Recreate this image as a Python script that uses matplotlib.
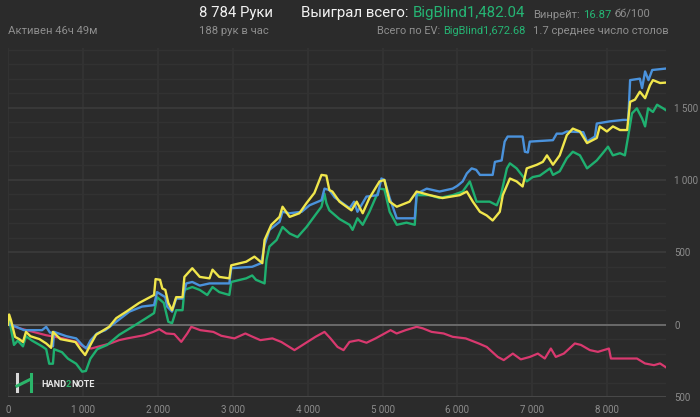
import matplotlib
matplotlib.use("Agg")
import matplotlib.pyplot as plt
import matplotlib.text as mtext
import numpy as np
from matplotlib.lines import Line2D

plt.rcParams['font.family'] = ['Roboto', 'DejaVu Sans']

# ---------------- data (hands, big blinds) ----------------
ev_x = [0, 15, 40, 95, 150, 200, 240, 300, 420, 510, 575, 600, 700, 900, 975, 1030, 1100, 1175,
        1350, 1445, 1580, 1750, 1950, 1970, 2030, 2060, 2100, 2140, 2190, 2245, 2330, 2355, 2460,
        2560, 2690, 2730, 2820, 2955, 2980, 3180, 3290, 3395, 3425, 3515, 3625, 3665, 3760, 3890,
        3985, 4090, 4185, 4250, 4290, 4330, 4425, 4585, 4655, 4735, 4825, 4960, 5025, 5095, 5190,
        5360, 5455, 5630, 5800, 6030, 6125, 6205, 6300, 6390, 6470, 6565, 6605, 6700, 6790, 6870,
        6925, 7060, 7140, 7195, 7275, 7365, 7460, 7540, 7635, 7730, 7860, 7900, 7995, 8075, 8170,
        8265, 8305, 8370, 8435, 8505, 8570, 8610, 8705, 8784]
ev_y = [0, 70, 30, -85, -100, -120, -50, -80, -100, -130, -160, -50, -100, -120, -175, -210, -140, -70,
        -15, 45, 90, 150, 205, 315, 310, 250, 240, 150, 100, 190, 190, 330, 390,
        330, 320, 380, 330, 320, 410, 435, 470, 425, 585, 690, 745, 815, 745, 770,
        840, 910, 1035, 1030, 930, 920, 850, 790, 850, 770, 875, 990, 1000, 850, 815,
        850, 920, 895, 875, 895, 920, 850, 780, 755, 720, 780, 895, 1010, 990, 955,
        1080, 1105, 1125, 1170, 1105, 1170, 1310, 1355, 1335, 1255, 1290, 1370, 1335, 1370, 1345,
        1345, 1540, 1555, 1610, 1565, 1655, 1690, 1670, 1673]

sd_x = [0, 40, 214, 455, 510, 560, 590, 600, 615, 780, 910, 990, 1045, 1100, 1190, 1300, 1445,
        1620, 1790, 1950, 1990, 2100, 2125, 2190, 2245, 2330, 2380, 2460, 2560, 2690, 2955, 2980,
        3260, 3380, 3425, 3490, 3625, 3665, 3760, 3920, 4025, 4185, 4225, 4290, 4360, 4560, 4620,
        4665, 4785, 4935, 4985, 5025, 5095, 5190, 5430, 5455, 5590, 5760, 5935, 6000, 6070, 6125,
        6190, 6250, 6300, 6470, 6500, 6590, 6630, 6670, 6870, 6900, 6940, 6965, 7275, 7325, 7400,
        7460, 7680, 7730, 7835, 7860, 8035, 8210, 8280, 8305, 8435, 8465, 8505, 8550, 8600, 8784]
sd_y = [0, 0, -38, -38, -15, -55, -55, -150, -50, -80, -95, -140, -165, -110, -60, -38, 20,
        90, 125, 135, 225, 190, 125, 90, 180, 180, 285, 295, 270, 285, 285, 390,
        400, 425, 550, 655, 710, 780, 770, 780, 825, 860, 940, 930, 880, 805, 850,
        780, 885, 895, 1010, 1000, 875, 735, 735, 905, 940, 920, 940, 960, 990, 1045,
        1080, 1070, 1035, 1035, 1125, 1135, 1265, 1300, 1300, 1195, 1190, 1265, 1275, 1320, 1320,
        1335, 1330, 1265, 1300, 1390, 1405, 1415, 1415, 1690, 1700, 1635, 1750, 1690, 1760, 1770]

won_x = [0, 15, 80, 130, 200, 240, 320, 455, 510, 550, 600, 615, 720, 800, 910, 990, 1040, 1100,
         1190, 1325, 1485, 1660, 1845, 1950, 1990, 2080, 2140, 2190, 2245, 2330, 2355, 2460, 2560,
         2660, 2730, 2820, 2955, 2980, 3180, 3260, 3310, 3425, 3450, 3490, 3585, 3665, 3760, 3865,
         3985, 4120, 4185, 4225, 4250, 4290, 4425, 4560, 4600, 4665, 4735, 4825, 4960, 5025, 5095,
         5190, 5320, 5430, 5455, 5630, 5760, 5935, 6070, 6165, 6255, 6430, 6525, 6580, 6660, 6700,
         6790, 6925, 7005, 7100, 7235, 7275, 7365, 7460, 7540, 7635, 7730, 7860, 7940, 8010, 8075,
         8170, 8235, 8275, 8330, 8395, 8465, 8505, 8545, 8610, 8665, 8745, 8784]
won_y = [0, 40, -140, -110, -150, -80, -110, -150, -170, -270, -270, -170, -190, -235, -270, -325, -320, -235,
         -170, -140, -70, -15, 45, 80, 190, 150, 20, 10, 100, 100, 240, 260, 240,
         205, 260, 225, 205, 295, 320, 340, 310, 285, 445, 540, 585, 675, 630, 605,
         675, 770, 815, 905, 840, 790, 730, 690, 655, 735, 690, 780, 940, 935, 780,
         690, 705, 690, 895, 895, 875, 895, 920, 990, 850, 850, 825, 895, 1080, 1115,
         1080, 990, 1020, 1030, 1080, 1035, 1060, 1150, 1195, 1170, 1080, 1135, 1185, 1230, 1170,
         1185, 1170, 1290, 1460, 1495, 1425, 1370, 1495, 1470, 1520, 1495, 1482]

nsd_x = [0, 160, 508, 735, 909, 1016, 1110, 1190, 1364, 1484, 1591, 1818, 1939, 2019, 2113, 2219,
         2313, 2393, 2447, 2567, 2741, 2848, 3022, 3169, 3249, 3369, 3530, 3650, 3824, 3904, 3998,
         4105, 4225, 4305, 4399, 4479, 4559, 4680, 4786, 4907, 5027, 5107, 5188, 5308, 5455, 5535,
         5655, 5816, 5936, 6110, 6284, 6391, 6538, 6618, 6739, 6846, 6966, 7073, 7166, 7247, 7313,
         7420, 7567, 7648, 7768, 7875, 8022, 8049, 8223, 8396, 8503, 8624, 8704, 8784]
nsd_y = [0, -26, -73, -95, -119, -154, -165, -154, -130, -107, -95, -73, -50, -31, -61, -65,
         -119, -61, -15, -38, -50, -77, -95, -61, -80, -107, -95, -120, -176, -150, -119,
         -84, -50, -95, -154, -176, -119, -107, -125, -95, -61, -38, -61, -38, -15, -25,
         -50, -61, -84, -95, -130, -154, -223, -245, -200, -240, -223, -200, -234, -165, -223,
         -200, -130, -140, -176, -188, -165, -234, -234, -234, -268, -280, -268, -295]

y_ticks = [-500, 0, 500, 1000, 1500]
y_labels = ["500", "0", "500", "1 000", "1 500"]
x_ticks = [0, 1000, 2000, 3000, 4000, 5000, 6000, 7000, 8000]
x_labels = ["0", "1 000", "2 000", "3 000", "4 000", "5 000", "6 000", "7 000", "8 000"]

# ---------------- figure ----------------
W, H = 700, 417
BG = '#2b2b2b'
fig = plt.figure(figsize=(W / 100, H / 100), dpi=100, facecolor=BG)

def fx(px):
    return px / W

def fy(py):
    return 1 - py / H

ax = fig.add_axes([fx(8), fy(397), fx(666) - fx(8), fy(48) - fy(397)])
ax.set_facecolor(BG)
ax.set_xlim(0, 8784)
ax.set_ylim(-500, 1912)

ax.set_yticks(np.arange(-500, 1901, 100), minor=True)
ax.set_yticks(y_ticks)
ax.set_yticklabels(y_labels)
ax.set_xticks(x_ticks)
ax.set_xticklabels(x_labels)
ax.yaxis.tick_right()
ax.tick_params(axis='both', which='both', length=0, colors='#8c8c8c', labelsize=7)
ax.tick_params(axis='y', pad=6)
ax.tick_params(axis='x', pad=6)
for s in ax.spines.values():
    s.set_visible(False)

ax.grid(which='minor', axis='y', color='#323232', lw=1.0)
ax.grid(which='major', axis='y', color='#3b3b3b', lw=1.2)
ax.grid(which='major', axis='x', color='#343434', lw=1.2)
ax.set_axisbelow(True)
ax.axhline(0, color='#6e6e6e', lw=1.3, zorder=1)
ax.axhline(-500, color='#4a4a4a', lw=1.3, zorder=1)

ax.plot(nsd_x, nsd_y, color='#d9396f', lw=1.6, zorder=3)
ax.plot(won_x, won_y, color='#1fb070', lw=1.7, zorder=4)
ax.plot(sd_x, sd_y, color='#4a92dc', lw=1.7, zorder=5)
ax.plot(ev_x, ev_y, color='#f0e64c', lw=1.7, zorder=6)

# ---------------- header texts ----------------
WHITE = '#f2f2f2'
GREY = '#8e8e8e'
GREEN = '#25b574'

def chain(parts, x, y, size, weight='normal', gap=3.0):
    t = fig.text(fx(x), fy(y), parts[0][0], color=parts[0][1], fontsize=size,
                 ha='left', va='bottom', fontweight=weight)
    for s, c, sp in parts[1:]:
        t = fig.add_artist(mtext.Annotation(
            s, xy=(1, 0), xycoords=t, xytext=(gap if sp else 0, 0), textcoords='offset pixels',
            color=c, fontsize=size, ha='left', va='bottom', fontweight=weight))
    return t

fig.text(fx(199), fy(20), "8 784 Руки", color=WHITE, fontsize=10.7, ha='left', va='bottom')
fig.text(fx(199), fy(36), "188 рук в час", color=GREY, fontsize=8.1, ha='left', va='bottom')
fig.text(fx(8), fy(36), "Активен 46ч 49м", color=GREY, fontsize=8.1, ha='left', va='bottom')
chain([("Выиграл всего:", WHITE), ("BigBlind1,482.04", GREEN, True)], 301, 20, 10.8, gap=4)
chain([("Винрейт:", GREY), ("16.87", GREEN, True), ("бб/100", GREY, True)], 533, 20, 8.1, gap=3)
chain([("Всего по EV:", GREY), ("BigBlind1,672.68", GREEN, True)], 377, 36, 7.9, gap=3)
fig.text(fx(533), fy(36), "1.7 среднее число столов", color=GREY, fontsize=8.1,
         ha='left', va='bottom')

# ---------------- logo ----------------
fig.add_artist(Line2D([fx(17), fx(17)], [fy(374), fy(391)], color='#d8d8d8', lw=2.2))
fig.add_artist(Line2D([fx(31), fx(31)], [fy(374), fy(391)], color='#2bb56a', lw=2.2))
fig.add_artist(Line2D([fx(17), fx(31)], [fy(386), fy(379)], color='#2bb56a', lw=2.2))
chain([("HAND", '#e6e6e6'), ("2", '#2bb56a', False), ("NOTE", '#e6e6e6', False)],
      41, 389, 6.6, weight='bold')

fig.savefig("out.png", dpi=100, facecolor=BG)
